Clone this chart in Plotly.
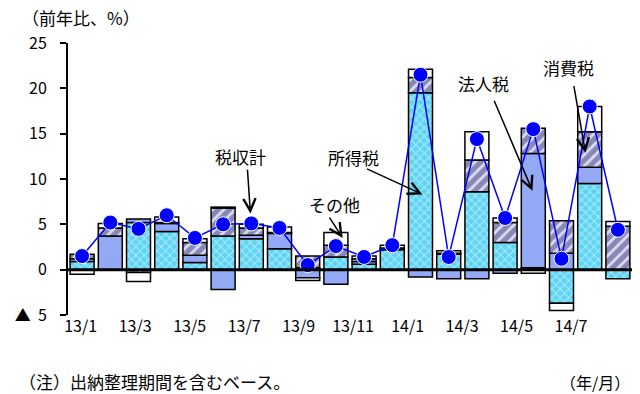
import plotly.graph_objects as go

# Monthly tax revenue, year-on-year change (%), contributions by tax type
months = ["13/1", "13/2", "13/3", "13/4", "13/5", "13/6", "13/7", "13/8", "13/9", "13/10",
          "13/11", "13/12", "14/1", "14/2", "14/3", "14/4", "14/5", "14/6", "14/7", "14/8"]
income_tax = [0.9, 0.0, 5.2, 4.2, 0.8, 3.7, 3.4, 2.3, 0.2, 1.4,
              0.6, 2.2, 19.5, 1.7, 8.6, 3.0, 0.2, -3.7, 9.5, -1.0]
corporate_tax = [0.3, 3.7, 0.4, 0.9, 0.8, -2.2, 0.4, 1.7, -0.9, -1.6,
                 0.3, 0.1, -0.8, -1.0, -1.0, -0.4, 12.6, 1.8, 1.8, 0.0]
consumption_tax = [0.5, 0.9, -0.3, 0.1, 1.4, 3.1, 0.8, 0.1, 1.3, 1.3,
                   0.3, 0.1, 1.7, 0.1, 3.5, 2.2, 2.8, 3.6, 3.9, 4.8]
other_tax = [-0.5, 0.5, -1.0, 0.6, 0.4, 0.1, 0.4, 0.6, -0.3, 1.4,
             0.3, 0.3, 0.9, 0.3, 3.1, 0.5, -0.4, -0.8, 2.8, 0.5]
total_tax = [1.5, 5.2, 4.5, 6.0, 3.5, 5.0, 5.1, 4.6, 0.5, 2.6,
             1.4, 2.7, 21.5, 1.4, 14.4, 5.7, 15.5, 1.2, 18.0, 4.4]
tick_labels = months[::2]
y_ticks = [-5, 0, 5, 10, 15, 20, 25]
y_tick_text = ["▲  5", "0", "5", "10", "15", "20", "25"]

FONT = "Noto Sans CJK JP"
xs = list(range(len(months)))
outline = dict(color="black", width=1.5)

fig = go.Figure()
fig.add_trace(go.Bar(
    x=xs, y=income_tax, name="所得税", hovertext=months, width=0.85,
    marker=dict(color="#5ed4f4", line=outline,
                pattern=dict(shape="x", fgcolor="white", bgcolor="#5ed4f4",
                             size=6, solidity=0.3)),
))
fig.add_trace(go.Bar(
    x=xs, y=corporate_tax, name="法人税", hovertext=months, width=0.85,
    marker=dict(color="#94a9f6", line=outline),
))
fig.add_trace(go.Bar(
    x=xs, y=consumption_tax, name="消費税", hovertext=months, width=0.85,
    marker=dict(color="#dcdcf2", line=outline,
                pattern=dict(shape="/", fgcolor="#34347c", bgcolor="#dcdcf2",
                             size=8, solidity=0.65)),
))
fig.add_trace(go.Bar(
    x=xs, y=other_tax, name="その他", hovertext=months, width=0.85,
    marker=dict(color="white", line=outline),
))
fig.add_trace(go.Scatter(
    x=xs, y=total_tax, name="税収計", hovertext=months, mode="lines+markers",
    line=dict(color="#0000ff", width=1.5),
    marker=dict(color="#0000ff", size=15, line=dict(color="white", width=1)),
))

# Month labels every two months, spaced slightly tighter than the bars
tick_pos = [i * 0.966 - 0.05 for i in range(0, len(months), 2)]

fig.update_layout(
    width=640, height=394,
    margin=dict(l=68, r=8, t=43, b=79),
    paper_bgcolor="white", plot_bgcolor="white",
    barmode="relative", bargap=0.15,
    showlegend=False,
    font=dict(family=FONT, size=16, color="black"),
    xaxis=dict(range=[-0.5, 19.5], tickmode="array", tickvals=tick_pos,
               ticktext=tick_labels, showgrid=False, zeroline=False,
               showline=False, ticks="", tickfont=dict(size=16)),
    yaxis=dict(range=[-5, 25], tickmode="array", tickvals=y_ticks,
               ticktext=y_tick_text, showgrid=False, zeroline=False,
               showline=True, linecolor="black", linewidth=2,
               ticks="outside", ticklen=6, tickwidth=2, tickcolor="black",
               ticklabelstandoff=10, tickfont=dict(size=16)),
)

# Heavy baseline at zero across the plot
fig.add_shape(type="line", xref="paper", yref="y", x0=0, x1=1, y0=0, y1=0,
              line=dict(color="black", width=3), layer="above")

# Series labels with pointer arrows
labels = [
    ("税収計", 5.62, 12.5, 5.86, 11.2, 5.97, 6.2),
    ("所得税", 9.63, 12.4, 10.05, 11.2, 12.07, 8.3),
    ("その他", 8.95, 7.2, 8.74, 5.9, 9.24, 3.5),
    ("法人税", 14.24, 20.5, 14.59, 18.8, 15.97, 8.7),
    ("消費税", 17.25, 22.3, 17.43, 20.4, 17.85, 12.9),
]
for text, tx, ty, ax, ay, hx, hy in labels:
    fig.add_annotation(x=tx, y=ty, xref="x", yref="y", text=text,
                       showarrow=False, font=dict(size=17))
    fig.add_annotation(x=hx, y=hy, xref="x", yref="y", ax=ax, ay=ay,
                       axref="x", ayref="y", text="", showarrow=True,
                       arrowhead=5, arrowsize=1.6, arrowwidth=1.5,
                       arrowcolor="black")

fig.add_annotation(x=-0.085, y=1.092, xref="paper", yref="paper",
                   text="（前年比、%）", showarrow=False, xanchor="left",
                   yanchor="middle", font=dict(size=17))
fig.add_annotation(x=-0.09, y=-0.246, xref="paper", yref="paper",
                   text="（注）出納整理期間を含むベース。", showarrow=False,
                   xanchor="left", yanchor="middle", font=dict(size=17))
fig.add_annotation(x=1.0, y=-0.246, xref="paper", yref="paper",
                   text="（年/月）", showarrow=False, xanchor="right",
                   yanchor="middle", font=dict(size=16))

fig.write_html("out.html")
